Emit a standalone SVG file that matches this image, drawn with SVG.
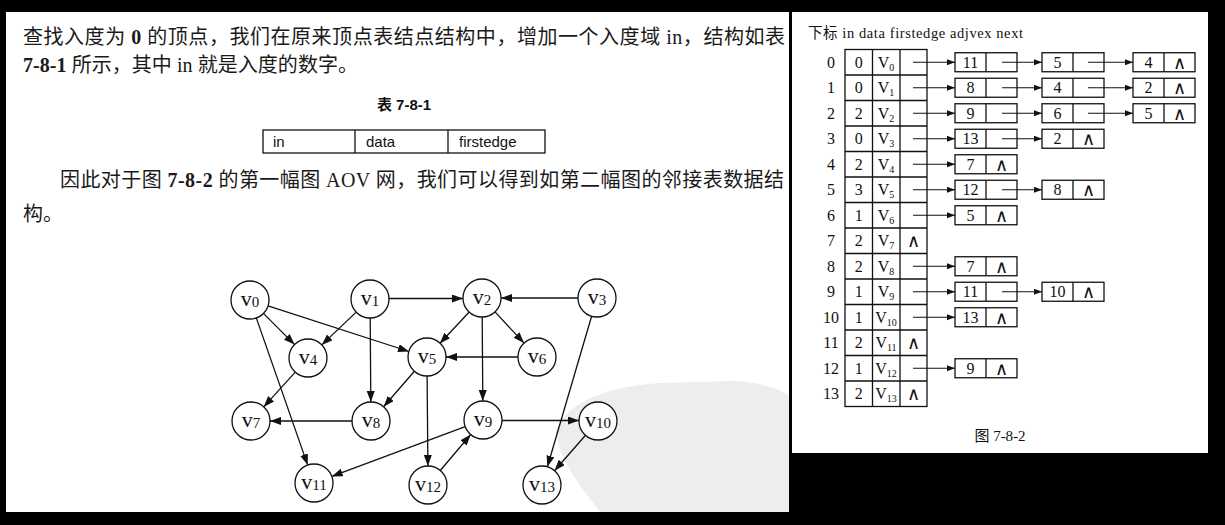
<svg xmlns="http://www.w3.org/2000/svg" width="1225" height="525" viewBox="0 0 1225 525">
<defs>
<marker id="ga" markerUnits="userSpaceOnUse" markerWidth="12" markerHeight="9" refX="11" refY="4" orient="auto"><path d="M0,0 L11,4 L0,8 Z" fill="#111"/></marker>
<marker id="ta" markerUnits="userSpaceOnUse" markerWidth="9" markerHeight="7" refX="8" refY="3" orient="auto"><path d="M0,0 L8,3 L0,6 Z" fill="#111"/></marker>
<style>
.body{font-family:"Liberation Serif","Noto Sans CJK SC",serif;font-size:20px;fill:#1a1a1a}
.sans{font-family:"Liberation Sans","Noto Sans CJK SC",sans-serif;font-size:15px;fill:#111}
.node circle{fill:#fff;stroke:#111;stroke-width:1.3}
.node text{font-family:"Liberation Serif",serif;font-size:22px;fill:#111;text-anchor:middle}
.edge{stroke:#111;stroke-width:1.3;fill:none;marker-end:url(#ga)}
.tl{stroke:#111;stroke-width:1.3;fill:none}
.cell{fill:#fff;stroke:#111;stroke-width:1.3}
.ct{font-family:"Liberation Serif","DejaVu Serif",serif;font-size:16px;fill:#111;text-anchor:middle}
.nul{font-family:"DejaVu Sans","Liberation Serif",serif;font-size:18px;font-weight:200;fill:#111;text-anchor:middle}
.ptr{stroke:#111;stroke-width:1.2;fill:none;marker-end:url(#ta)}
</style>
</defs>
<rect x="0" y="0" width="1225" height="525" fill="#000"/>
<rect x="6" y="12" width="783" height="500" fill="#fff"/>
<rect x="792" y="12" width="416" height="441" fill="#fff"/>
<path d="M556 430 C568 400 612 386 660 383 L735 381 C765 383 782 390 789 396 L789 512 L600 512 C580 485 558 460 556 430 Z" fill="#ededed"/>

<g id="text-left">
<text class="body" x="23" y="44" textLength="762" lengthAdjust="spacing">查找入度为 <tspan font-weight="bold">0</tspan> 的顶点，我们在原来顶点表结点结构中，增加一个入度域 in，结构如表</text>
<text class="body" x="23" y="72" textLength="335" lengthAdjust="spacing"><tspan font-weight="bold">7-8-1</tspan> 所示，其中 in 就是入度的数字。</text>
<text class="sans" x="404" y="110" text-anchor="middle" font-weight="bold">表 7-8-1</text>
<text class="body" x="60" y="187" textLength="724" lengthAdjust="spacing">因此对于图 <tspan font-weight="bold">7-8-2</tspan> 的第一幅图 AOV 网，我们可以得到如第二幅图的邻接表数据结</text>
<text class="body" x="23" y="221">构。</text>
</g>

<g id="table-7-8-1">
<rect x="263" y="130" width="282" height="23" fill="#fff" stroke="#111" stroke-width="1.3"/>
<line x1="355" y1="130" x2="355" y2="153" class="tl"/>
<line x1="448" y1="130" x2="448" y2="153" class="tl"/>
<text class="sans" x="273" y="147">in</text>
<text class="sans" x="366" y="147">data</text>
<text class="sans" x="459" y="147">firstedge</text>
</g>

<g id="graph-edges">
<line class="edge" x1="263.4" y1="313.4" x2="294.6" y2="344.6"/>
<line class="edge" x1="268" y1="305.9" x2="409" y2="351.5"/>
<line class="edge" x1="256.3" y1="317.9" x2="307.7" y2="465.1"/>
<line class="edge" x1="356.2" y1="312.1" x2="321.8" y2="344.9"/>
<line class="edge" x1="370.2" y1="318" x2="370.8" y2="402"/>
<line class="edge" x1="389" y1="298.5" x2="463" y2="298.5"/>
<line class="edge" x1="469.2" y1="312" x2="439.8" y2="343.5"/>
<line class="edge" x1="495" y1="311.9" x2="524" y2="343.1"/>
<line class="edge" x1="482.2" y1="317" x2="482.8" y2="401"/>
<line class="edge" x1="578" y1="298" x2="501" y2="298"/>
<line class="edge" x1="591.6" y1="316.2" x2="547.4" y2="466.8"/>
<line class="edge" x1="295.3" y1="372.1" x2="263.7" y2="406.9"/>
<line class="edge" x1="414.4" y1="371.2" x2="383.6" y2="406.8"/>
<line class="edge" x1="427.1" y1="376" x2="427.9" y2="466"/>
<line class="edge" x1="518" y1="357" x2="446" y2="357"/>
<line class="edge" x1="352" y1="421" x2="270" y2="421"/>
<line class="edge" x1="502" y1="420.5" x2="579" y2="420.5"/>
<line class="edge" x1="465.2" y1="426.6" x2="331.8" y2="476.4"/>
<line class="edge" x1="585.5" y1="435.3" x2="554.5" y2="470.7"/>
<line class="edge" x1="440.3" y1="470.5" x2="470.7" y2="434.5"/>
</g>

<g id="v0" class="node"><circle cx="250" cy="300" r="19"/><text x="250" y="306">v<tspan font-size="15" dy="1">0</tspan></text></g>
<g id="v1" class="node"><circle cx="370" cy="299" r="19"/><text x="370" y="305">v<tspan font-size="15" dy="1">1</tspan></text></g>
<g id="v2" class="node"><circle cx="482" cy="298" r="19"/><text x="482" y="304">v<tspan font-size="15" dy="1">2</tspan></text></g>
<g id="v3" class="node"><circle cx="597" cy="298" r="19"/><text x="597" y="304">v<tspan font-size="15" dy="1">3</tspan></text></g>
<g id="v4" class="node"><circle cx="308" cy="358" r="19"/><text x="308" y="364">v<tspan font-size="15" dy="1">4</tspan></text></g>
<g id="v5" class="node"><circle cx="427" cy="357" r="19"/><text x="427" y="363">v<tspan font-size="15" dy="1">5</tspan></text></g>
<g id="v6" class="node"><circle cx="537" cy="357" r="19"/><text x="537" y="363">v<tspan font-size="15" dy="1">6</tspan></text></g>
<g id="v7" class="node"><circle cx="251" cy="421" r="19"/><text x="251" y="427">v<tspan font-size="15" dy="1">7</tspan></text></g>
<g id="v8" class="node"><circle cx="371" cy="421" r="19"/><text x="371" y="427">v<tspan font-size="15" dy="1">8</tspan></text></g>
<g id="v9" class="node"><circle cx="483" cy="420" r="19"/><text x="483" y="426">v<tspan font-size="15" dy="1">9</tspan></text></g>
<g id="v10" class="node"><circle cx="598" cy="421" r="19"/><text x="598" y="427">v<tspan font-size="15" dy="1">10</tspan></text></g>
<g id="v11" class="node"><circle cx="314" cy="483" r="19"/><text x="314" y="489">v<tspan font-size="15" dy="1">11</tspan></text></g>
<g id="v12" class="node"><circle cx="428" cy="485" r="19"/><text x="428" y="491">v<tspan font-size="15" dy="1">12</tspan></text></g>
<g id="v13" class="node"><circle cx="542" cy="485" r="19"/><text x="542" y="491">v<tspan font-size="15" dy="1">13</tspan></text></g>

<g id="adj-header">
<text x="808" y="38" font-family="Liberation Serif,Noto Sans CJK SC,serif" font-size="14.5" fill="#111" textLength="215" lengthAdjust="spacing">下标  in  data firstedge  adjvex next</text>
</g>

<g id="vertex-table">
<rect x="845" y="49.5" width="82" height="357" class="cell"/>
<line class="tl" x1="872.5" y1="49.5" x2="872.5" y2="406.5"/>
<line class="tl" x1="900" y1="49.5" x2="900" y2="406.5"/>
<path class="tl" d="M845 75H927M845 100.5H927M845 126H927M845 151.5H927M845 177H927M845 202.5H927M845 228H927M845 253.5H927M845 279H927M845 304.5H927M845 330H927M845 355.5H927M845 381H927"/>
</g>

<g id="row0"><text class="ct" x="831" y="67.75">0</text><text class="ct" x="858.75" y="67.75">0</text><text class="ct" x="886" y="67.75">V<tspan font-size="10" dy="3">0</tspan></text></g>
<g id="row1"><text class="ct" x="831" y="93.25">1</text><text class="ct" x="858.75" y="93.25">0</text><text class="ct" x="886" y="93.25">V<tspan font-size="10" dy="3">1</tspan></text></g>
<g id="row2"><text class="ct" x="831" y="118.75">2</text><text class="ct" x="858.75" y="118.75">2</text><text class="ct" x="886" y="118.75">V<tspan font-size="10" dy="3">2</tspan></text></g>
<g id="row3"><text class="ct" x="831" y="144.25">3</text><text class="ct" x="858.75" y="144.25">0</text><text class="ct" x="886" y="144.25">V<tspan font-size="10" dy="3">3</tspan></text></g>
<g id="row4"><text class="ct" x="831" y="169.75">4</text><text class="ct" x="858.75" y="169.75">2</text><text class="ct" x="886" y="169.75">V<tspan font-size="10" dy="3">4</tspan></text></g>
<g id="row5"><text class="ct" x="831" y="195.25">5</text><text class="ct" x="858.75" y="195.25">3</text><text class="ct" x="886" y="195.25">V<tspan font-size="10" dy="3">5</tspan></text></g>
<g id="row6"><text class="ct" x="831" y="220.75">6</text><text class="ct" x="858.75" y="220.75">1</text><text class="ct" x="886" y="220.75">V<tspan font-size="10" dy="3">6</tspan></text></g>
<g id="row7"><text class="ct" x="831" y="246.25">7</text><text class="ct" x="858.75" y="246.25">2</text><text class="ct" x="886" y="246.25">V<tspan font-size="10" dy="3">7</tspan></text><text class="nul" x="913.5" y="247">∧</text></g>
<g id="row8"><text class="ct" x="831" y="271.75">8</text><text class="ct" x="858.75" y="271.75">2</text><text class="ct" x="886" y="271.75">V<tspan font-size="10" dy="3">8</tspan></text></g>
<g id="row9"><text class="ct" x="831" y="297.25">9</text><text class="ct" x="858.75" y="297.25">1</text><text class="ct" x="886" y="297.25">V<tspan font-size="10" dy="3">9</tspan></text></g>
<g id="row10"><text class="ct" x="831" y="322.75">10</text><text class="ct" x="858.75" y="322.75">1</text><text class="ct" x="886" y="322.75">V<tspan font-size="10" dy="3">10</tspan></text></g>
<g id="row11"><text class="ct" x="831" y="348.25">11</text><text class="ct" x="858.75" y="348.25">2</text><text class="ct" x="886" y="348.25">V<tspan font-size="10" dy="3">11</tspan></text><text class="nul" x="913.5" y="349">∧</text></g>
<g id="row12"><text class="ct" x="831" y="373.75">12</text><text class="ct" x="858.75" y="373.75">1</text><text class="ct" x="886" y="373.75">V<tspan font-size="10" dy="3">12</tspan></text></g>
<g id="row13"><text class="ct" x="831" y="399.25">13</text><text class="ct" x="858.75" y="399.25">2</text><text class="ct" x="886" y="399.25">V<tspan font-size="10" dy="3">13</tspan></text><text class="nul" x="913.5" y="400">∧</text></g>

<g id="edge-nodes">
<g id="e0a"><rect class="cell" x="955" y="52.75" width="62" height="19"/><line class="tl" x1="986" y1="52.75" x2="986" y2="71.75"/><text class="ct" x="970.5" y="67.75">11</text></g>
<g id="e0b"><rect class="cell" x="1042" y="52.75" width="62" height="19"/><line class="tl" x1="1073" y1="52.75" x2="1073" y2="71.75"/><text class="ct" x="1057.5" y="67.75">5</text></g>
<g id="e0c"><rect class="cell" x="1133" y="52.75" width="62" height="19"/><line class="tl" x1="1164" y1="52.75" x2="1164" y2="71.75"/><text class="ct" x="1148.5" y="67.75">4</text><text class="nul" x="1179.5" y="68.5">∧</text></g>

<g id="e1a"><rect class="cell" x="955" y="78.25" width="62" height="19"/><line class="tl" x1="986" y1="78.25" x2="986" y2="97.25"/><text class="ct" x="970.5" y="93.25">8</text></g>
<g id="e1b"><rect class="cell" x="1042" y="78.25" width="62" height="19"/><line class="tl" x1="1073" y1="78.25" x2="1073" y2="97.25"/><text class="ct" x="1057.5" y="93.25">4</text></g>
<g id="e1c"><rect class="cell" x="1133" y="78.25" width="62" height="19"/><line class="tl" x1="1164" y1="78.25" x2="1164" y2="97.25"/><text class="ct" x="1148.5" y="93.25">2</text><text class="nul" x="1179.5" y="94">∧</text></g>

<g id="e2a"><rect class="cell" x="955" y="103.75" width="62" height="19"/><line class="tl" x1="986" y1="103.75" x2="986" y2="122.75"/><text class="ct" x="970.5" y="118.75">9</text></g>
<g id="e2b"><rect class="cell" x="1042" y="103.75" width="62" height="19"/><line class="tl" x1="1073" y1="103.75" x2="1073" y2="122.75"/><text class="ct" x="1057.5" y="118.75">6</text></g>
<g id="e2c"><rect class="cell" x="1133" y="103.75" width="62" height="19"/><line class="tl" x1="1164" y1="103.75" x2="1164" y2="122.75"/><text class="ct" x="1148.5" y="118.75">5</text><text class="nul" x="1179.5" y="119.5">∧</text></g>

<g id="e3a"><rect class="cell" x="955" y="129.25" width="62" height="19"/><line class="tl" x1="986" y1="129.25" x2="986" y2="148.25"/><text class="ct" x="970.5" y="144.25">13</text></g>
<g id="e3b"><rect class="cell" x="1042" y="129.25" width="62" height="19"/><line class="tl" x1="1073" y1="129.25" x2="1073" y2="148.25"/><text class="ct" x="1057.5" y="144.25">2</text><text class="nul" x="1088.5" y="145">∧</text></g>

<g id="e4a"><rect class="cell" x="955" y="154.75" width="62" height="19"/><line class="tl" x1="986" y1="154.75" x2="986" y2="173.75"/><text class="ct" x="970.5" y="169.75">7</text><text class="nul" x="1001.5" y="170.5">∧</text></g>

<g id="e5a"><rect class="cell" x="955" y="180.25" width="62" height="19"/><line class="tl" x1="986" y1="180.25" x2="986" y2="199.25"/><text class="ct" x="970.5" y="195.25">12</text></g>
<g id="e5b"><rect class="cell" x="1042" y="180.25" width="62" height="19"/><line class="tl" x1="1073" y1="180.25" x2="1073" y2="199.25"/><text class="ct" x="1057.5" y="195.25">8</text><text class="nul" x="1088.5" y="196">∧</text></g>

<g id="e6a"><rect class="cell" x="955" y="205.75" width="62" height="19"/><line class="tl" x1="986" y1="205.75" x2="986" y2="224.75"/><text class="ct" x="970.5" y="220.75">5</text><text class="nul" x="1001.5" y="221.5">∧</text></g>

<g id="e8a"><rect class="cell" x="955" y="256.75" width="62" height="19"/><line class="tl" x1="986" y1="256.75" x2="986" y2="275.75"/><text class="ct" x="970.5" y="271.75">7</text><text class="nul" x="1001.5" y="272.5">∧</text></g>

<g id="e9a"><rect class="cell" x="955" y="282.25" width="62" height="19"/><line class="tl" x1="986" y1="282.25" x2="986" y2="301.25"/><text class="ct" x="970.5" y="297.25">11</text></g>
<g id="e9b"><rect class="cell" x="1042" y="282.25" width="62" height="19"/><line class="tl" x1="1073" y1="282.25" x2="1073" y2="301.25"/><text class="ct" x="1057.5" y="297.25">10</text><text class="nul" x="1088.5" y="298">∧</text></g>

<g id="e10a"><rect class="cell" x="955" y="307.75" width="62" height="19"/><line class="tl" x1="986" y1="307.75" x2="986" y2="326.75"/><text class="ct" x="970.5" y="322.75">13</text><text class="nul" x="1001.5" y="323.5">∧</text></g>

<g id="e12a"><rect class="cell" x="955" y="358.75" width="62" height="19"/><line class="tl" x1="986" y1="358.75" x2="986" y2="377.75"/><text class="ct" x="970.5" y="373.75">9</text><text class="nul" x="1001.5" y="374.5">∧</text></g>
</g>

<g id="adj-pointers">
<path class="ptr" d="M913 62.25H955"/><path class="ptr" d="M1002 62.25H1042"/><path class="ptr" d="M1088 62.25H1133"/>
<path class="ptr" d="M913 87.75H955"/><path class="ptr" d="M1002 87.75H1042"/><path class="ptr" d="M1088 87.75H1133"/>
<path class="ptr" d="M913 113.25H955"/><path class="ptr" d="M1002 113.25H1042"/><path class="ptr" d="M1088 113.25H1133"/>
<path class="ptr" d="M913 138.75H955"/><path class="ptr" d="M1002 138.75H1042"/>
<path class="ptr" d="M913 164.25H955"/>
<path class="ptr" d="M913 189.75H955"/><path class="ptr" d="M1002 189.75H1042"/>
<path class="ptr" d="M913 215.25H955"/>
<path class="ptr" d="M913 266.25H955"/>
<path class="ptr" d="M913 291.75H955"/><path class="ptr" d="M1002 291.75H1042"/>
<path class="ptr" d="M913 317.25H955"/>
<path class="ptr" d="M913 368.25H955"/>
</g>

<text x="1000" y="441" font-family="Liberation Serif,Noto Sans CJK SC,serif" font-size="15" fill="#111" text-anchor="middle">图 7-8-2</text>
</svg>
